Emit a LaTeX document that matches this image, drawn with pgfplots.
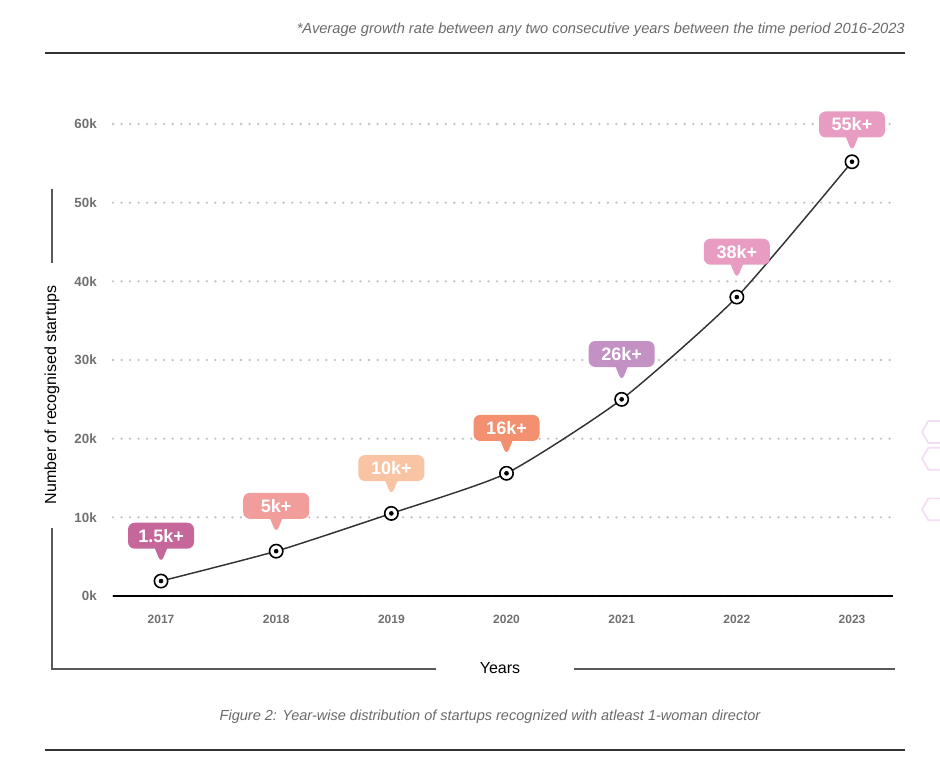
\documentclass[border=0pt]{standalone}
\usepackage{fontspec}
\setmainfont{Liberation Sans}
\usepackage{pgfplots}
\pgfplotsset{compat=1.18}
\usepackage{pgfplotstable}
\usetikzlibrary{shapes.callouts,shapes.geometric}

\definecolor{cA}{HTML}{C5679A}
\definecolor{cB}{HTML}{F09D9C}
\definecolor{cC}{HTML}{F9C4A4}
\definecolor{cD}{HTML}{F2906F}
\definecolor{cE}{HTML}{C391C3}
\definecolor{cF}{HTML}{E89CC2}
\definecolor{cG}{HTML}{E89CC2}
\definecolor{tickgray}{HTML}{707070}
\definecolor{captiongray}{HTML}{6A6A6A}
\definecolor{linegray}{HTML}{333333}
\definecolor{hexpink}{HTML}{F3DDF3}

\pgfplotstableread{
x y label
2017 1900 1.5k+
2018 5700 5k+
2019 10500 10k+
2020 15600 16k+
2021 25000 26k+
2022 38000 38k+
2023 55200 55k+
}\datatable

\pgfplotsset{
  callout/.style n args={3}{draw=none, mark=none,
    point meta=explicit symbolic,
    restrict x to domain=#1:#2,
    nodes near coords,
    every node near coord/.style={
      rectangle callout, fill=#3, draw=none, text=white,
      font=\bfseries\fontsize{13.5}{15}\selectfont,
      anchor=center, yshift=34pt,
      minimum width=49.5pt, minimum height=19.5pt, inner xsep=6pt, inner ysep=2pt,
      rounded corners=5pt,
      callout relative pointer={(0pt,-11pt)}, callout pointer width=9pt}},
}

\begin{document}
\begin{tikzpicture}
\begin{axis}[
  at={(84.75pt,-447pt)}, anchor=south west,
  scale only axis, width=585pt, height=354pt,
  xmin=2016.583, xmax=2023.356, ymin=0, ymax=60000,
  xtick={2017,2018,2019,2020,2021,2022,2023},
  xticklabels={2017,2018,2019,2020,2021,2022,2023},
  ytick={0,10000,20000,30000,40000,50000,60000},
  yticklabels={0k,10k,20k,30k,40k,50k,60k},
  scaled y ticks=false,
  /pgf/number format/assume math mode=true,
  axis line style={draw=none},
  major tick length=0pt,
  ymajorgrids,
  major grid style={draw=black!24, line width=1.9pt, line cap=round, dash pattern=on 0pt off 6.4pt},
  yticklabel style={font=\bfseries\fontsize{10}{12}\selectfont, text=tickgray, anchor=east, xshift=-8.7pt},
  xticklabel style={font=\bfseries\fontsize{9}{11}\selectfont, text=tickgray, yshift=-11pt},
  clip=false,
]
\draw[line width=2pt, black] (rel axis cs:0,0) -- (rel axis cs:1,0);
\addplot[smooth, tension=0.35, color=linegray, line width=1.1pt,
  mark=*, mark size=5pt, mark options={fill=white, draw=black, line width=1.2pt}]
  table[x=x, y=y] {\datatable};
\addplot[only marks, mark=*, mark size=1.5pt, black] table[x=x, y=y] {\datatable};
\addplot[callout={2016.6}{2017.4}{cA}] table[x=x, y=y, meta=label] {\datatable};
\addplot[callout={2017.6}{2018.4}{cB}] table[x=x, y=y, meta=label] {\datatable};
\addplot[callout={2018.6}{2019.4}{cC}] table[x=x, y=y, meta=label] {\datatable};
\addplot[callout={2019.6}{2020.4}{cD}] table[x=x, y=y, meta=label] {\datatable};
\addplot[callout={2020.6}{2021.4}{cE}] table[x=x, y=y, meta=label] {\datatable};
\addplot[callout={2021.6}{2022.4}{cF}] table[x=x, y=y, meta=label] {\datatable};
\addplot[callout={2022.6}{2023.4}{cG}, every node near coord/.append style={yshift=-6pt}] table[x=x, y=y, meta=label] {\datatable};
\end{axis}

% header / footer
\node[anchor=east, font=\itshape\fontsize{11}{13}\selectfont, text=captiongray, inner sep=0pt]
  at (678.75pt,-22.5pt) {*Average growth rate between any two consecutive years between the time period 2016-2023};
\draw[line width=1.5pt, black!80] (33.75pt,-39.75pt) -- (678.75pt,-39.75pt);
\draw[line width=1.5pt, black!80] (33.75pt,-562.5pt) -- (678.75pt,-562.5pt);
\node[font=\itshape\fontsize{10.9}{13}\selectfont, text=captiongray, inner sep=0pt]
  at (367.5pt,-537.75pt) {Figure 2: Year-wise distribution of startups recognized with atleast 1-woman director};

% L frame with axis titles
\draw[line width=1.1pt, black!65] (39pt,-141.75pt) -- (39pt,-197.25pt);
\draw[line width=1.1pt, black!65] (39pt,-396pt) -- (39pt,-501.75pt) -- (327pt,-501.75pt);
\draw[line width=1.1pt, black!65] (430.5pt,-501.75pt) -- (671pt,-501.75pt);
\node[rotate=90, font=\fontsize{12}{14}\selectfont] at (39pt,-296.25pt) {Number of recognised startups};
\node[font=\fontsize{12}{14}\selectfont] at (375pt,-501pt) {Years};

% decorative hexagons
\foreach \cy in {-324,-344,-382}{
  \node[regular polygon, regular polygon sides=6, minimum size=19pt, inner sep=0pt, draw=hexpink, line width=1.3pt] at (701pt,\cy pt) {};
}

\pgfresetboundingbox
\useasboundingbox (0pt,0pt) rectangle (705pt,-573pt);
\end{tikzpicture}
\end{document}
